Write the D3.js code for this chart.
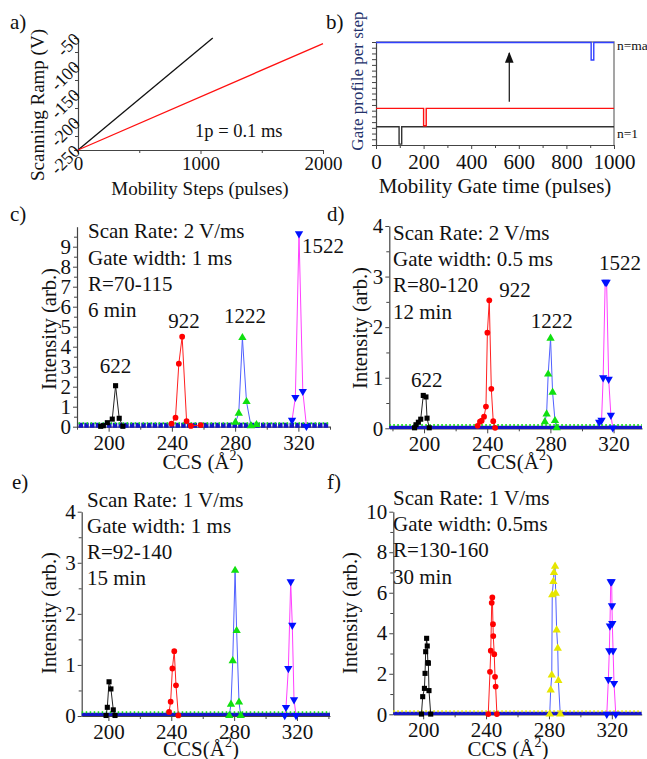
<!DOCTYPE html>
<html><head><meta charset="utf-8">
<script src="https://cdn.jsdelivr.net/npm/d3@7"></script>
<style>
body{margin:0;background:#fff}
svg text{font-family:"Liberation Serif","Times New Roman",serif;fill:#111}
</style></head><body>
<svg id="fig" width="647" height="759"></svg>
<script>
// ---- a) scanning ramp
const rampFast = [[0,-250],[1100,-50]];
const rampSlow = [[0,-250],[2000,-60]];
const rampXTicks = [0, 1000, 2000];
const rampYTicks = [-250, -200, -150, -100, -50];

// ---- b) gate profile per step
const gateStarts = [97, 200, 904];
const gateLevels = [1, 2, 5.6];
const gateColors = ["#333333", "#ff1010", "#3040ff"];
const gateWidth = 11;
const gateDepth = 0.95;
const gateXTicks = [0, 200, 400, 600, 800, 1000];
const gateArrow = [[560, 2.37], [560, 5.03]];

// ---- CCS panels
const ccsTicks = [200, 240, 280, 320];
const ccsMinor = [180, 220, 260, 300, 340];
const peakNames = ["622", "922", "1222", "1522"];

// c)
const c622  = [[195,0.02],[196.6,0.05],[199.2,0.2],[202.3,0.38],[204.4,2.05],[206.7,0.42],[209,0.02]];
const c922  = [[239.8,0.15],[242.3,0.45],[244.4,3.15],[246.5,4.5],[249.3,0.28],[252,0.04],[258.3,0.08]];
const c1222 = [[280.2,0.22],[282.3,0.67],[284.6,4.45],[287.2,1.25],[290,0.04],[293.5,0.1]];
const c1522 = [[316,0.33],[318.1,1.47],[320.4,9.65],[322.8,1.77],[325.1,0.02]];
const cBase = [[181,0.07],[339,0.07]];
const cLabelPos = [[204.4,2.68],[247.7,4.93],[286.3,5.2],[335.6,8.7]];
const cText = ["Scan Rate: 2 V/ms", "Gate width: 1 ms", "R=70-115", "6 min"];

// d)
const d622  = [[194,0.01],[194.9,0.07],[196.4,0.12],[197.9,0.18],[199.5,0.65],[201.2,0.62],[201.9,0.2],[203.3,0.01]];
const d922  = [[233.9,0.05],[235.4,0.13],[236.5,0.15],[238,0.23],[239.2,0.43],[240.1,1.89],[241.3,2.53],[242.6,0.78],[243.8,0.14],[245,0.01]];
const d1222 = [[276.5,0.13],[277.6,0.28],[278.6,1.07],[280.1,1.78],[281.4,0.71],[282.9,0.15],[284,0.01]];
const d1522 = [[310.9,0.12],[312.4,0.16],[313.4,1.0],[314.7,2.89],[315.6,2.89],[316.9,0.97],[318.3,0.26],[319.5,0.01]];
const dBase = [[178,0.02],[338,0.02]];
const dLabelPos = [[201.7,0.82],[257.6,2.6],[280.8,1.98],[324.1,3.13]];
const dText = ["Scan Rate: 2 V/ms", "Gate width: 0.5 ms", "R=80-120", "12 min"];

// e)
const e622  = [[198.5,0.01],[199.3,0.17],[200.4,0.67],[201.6,0.53],[203.1,0.12],[204.2,0.01]];
const e922  = [[238.6,0.08],[239.6,0.28],[240.7,0.93],[241.9,1.27],[243.0,0.6],[244.5,0.01]];
const e1222 = [[276.9,0.01],[278.0,0.23],[279.1,1.08],[280.6,2.85],[281.6,1.67],[283.1,0.27],[284.2,0.01]];
const e1522 = [[312.2,0.01],[313.0,0.17],[314.5,0.93],[316.0,2.63],[317.0,1.78],[318.1,0.32],[319.4,0.01]];
const eBase = [[183,0.03],[341,0.03]];
const eText = ["Scan Rate: 1 V/ms", "Gate width: 1 ms", "R=92-140", "15 min"];

// f)
const f622  = [[198.9,0.01],[199.7,0.87],[200.8,1.28],[201.2,2.02],[201.6,3.09],[202.2,3.75],[202.6,3.37],[203.0,2.55],[203.3,2.52],[203.7,1.17],[204.8,0.01]];
const f922  = [[241.4,0.01],[242.5,2.1],[243.0,3.14],[243.6,5.5],[244.0,5.77],[244.4,4.45],[244.6,3.86],[245.2,2.97],[245.7,1.85],[246.1,1.37],[246.9,0.01]];
const f1222 = [[280.5,0.01],[281.1,1.2],[281.8,1.94],[282.1,5.9],[282.8,6.55],[283.2,7.0],[283.9,7.3],[284.3,5.97],[284.9,4.16],[285.6,3.26],[286.0,1.66],[287.2,0.01]];
const f1522 = [[316.8,0.01],[317.8,1.72],[318.4,3.14],[318.8,4.36],[319.3,6.55],[319.9,6.55],[320.1,5.36],[320.3,4.49],[320.8,3.14],[321.4,1.53],[322.5,0.01]];
const fBase = [[181,0.05],[339,0.05]];
const fText = ["Scan Rate: 1 V/ms", "Gate width: 0.5ms", "R=130-160", "30 min"];

const svg = d3.select("#fig");
const axisColor = "#444";
const intFmt = d3.format("d");

function styleAxis(a, fs) {
  a.attr("font-family", null).attr("font-size", fs).attr("color", "#111");
  a.select(".domain").attr("stroke", axisColor).attr("stroke-width", 1.2);
  a.selectAll(".tick line").attr("stroke", axisColor).attr("stroke-width", 1);
  return a;
}

function minorTicks(g, axisFn, scale, vals, at) {
  g.append("g").attr("transform", at)
    .call(axisFn(scale).tickValues(vals).tickSize(3).tickFormat(""))
    .call(a => { a.select(".domain").remove(); a.selectAll("line").attr("stroke", axisColor); });
}

function label(x, y, txt, fs, opts) {
  opts = opts || {};
  const t = svg.append("text").attr("x", x).attr("y", y).attr("font-size", fs)
    .attr("text-anchor", opts.anchor || "start").text(txt);
  if (opts.rot) t.attr("transform", `rotate(${opts.rot},${x},${y})`);
  if (opts.fill) t.style("fill", opts.fill);
  return t;
}

function ccsLabel(x, y, spaced) {
  const t = svg.append("text").attr("x", x).attr("y", y).attr("font-size", 21).attr("text-anchor", "middle");
  t.append("tspan").text(spaced ? "CCS (Å" : "CCS(Å");
  t.append("tspan").attr("font-size", 14).attr("dy", -9).text("2");
  t.append("tspan").attr("dy", 9).text(")");
}

// ================= a)
{
  const x = d3.scaleLinear().domain([0, 2000]).range([78, 323]);
  const y = d3.scaleLinear().domain([-250, -50]).range([150, 38]);
  const g = svg.append("g");
  const xa = g.append("g").attr("transform", `translate(0,${y(-250)})`)
    .call(d3.axisBottom(x).tickValues(rampXTicks).tickSize(4).tickSizeOuter(0).tickPadding(3).tickFormat(intFmt));
  styleAxis(xa, 19);
  minorTicks(g, d3.axisBottom, x, [500, 1500], `translate(0,${y(-250)})`);
  const ya = g.append("g").attr("transform", `translate(${x(0)},0)`)
    .call(d3.axisLeft(y).tickValues(rampYTicks).tickSize(4).tickSizeOuter(0).tickFormat(d => "-" + Math.abs(d)));
  styleAxis(ya, 18);
  ya.selectAll(".tick text").attr("x", 0).attr("dy", 0).attr("text-anchor", "end")
    .attr("transform", "translate(3,2) rotate(-45)");
  minorTicks(g, d3.axisLeft, y, [-225, -175, -125, -75], `translate(${x(0)},0)`);
  const line = d3.line().x(d => x(d[0])).y(d => y(d[1]));
  g.append("path").datum(rampFast).attr("d", line).attr("fill", "none").attr("stroke", "#111").attr("stroke-width", 1.3);
  g.append("path").datum(rampSlow).attr("d", line).attr("fill", "none").attr("stroke", "#ff1010").attr("stroke-width", 1.3);
  label(195, 137, "1p = 0.1 ms", 18.5);
  label(200, 195, "Mobility Steps (pulses)", 19, {anchor: "middle"});
  label(44, 105, "Scanning Ramp (V)", 19, {anchor: "middle", rot: -90});
  label(10, 29, "a)", 21);
}

// ================= b)
{
  const x = d3.scaleLinear().domain([0, 1000]).range([376, 614]);
  const y = d3.scaleLinear().domain([0, 5.63]).range([145, 42]);
  const g = svg.append("g");
  // frame top/right
  g.append("path").attr("d", `M${x(0)},${y(5.63)}H${x(1000)}V${y(0)}`)
    .attr("fill", "none").attr("stroke", "#888").attr("stroke-width", 1.5);
  const xa = g.append("g").attr("transform", `translate(0,${y(0)})`)
    .call(d3.axisBottom(x).tickValues(gateXTicks).tickSize(4).tickSizeOuter(0).tickPadding(5).tickFormat(intFmt));
  styleAxis(xa, 21);
  minorTicks(g, d3.axisBottom, x, [100, 300, 500, 700, 900], `translate(0,${y(0)})`);
  const ya = g.append("g").attr("transform", `translate(${x(0)},0)`)
    .call(d3.axisLeft(y).tickValues(d3.range(0, 5.64, 5.63 / 18)).tickSize(4).tickSizeOuter(0).tickFormat(""));
  styleAxis(ya, 10);
  const line = d3.line().x(d => x(d[0])).y(d => y(d[1]));
  gateStarts.forEach((s, i) => {
    const lv = gateLevels[i];
    const pts = [[0, lv], [s, lv], [s, lv - gateDepth], [s + gateWidth, lv - gateDepth], [s + gateWidth, lv], [1000, lv]];
    g.append("path").datum(pts).attr("d", line).attr("fill", "none")
      .attr("stroke", gateColors[i]).attr("stroke-width", 1.4);
  });
  svg.append("defs").append("marker").attr("id", "ah").attr("viewBox", "0 0 10 10")
    .attr("refX", 9).attr("refY", 5).attr("markerWidth", 9).attr("markerHeight", 9)
    .attr("orient", "auto").append("path").attr("d", "M0,1L10,5L0,9Z").attr("fill", "#111");
  g.append("path").datum(gateArrow).attr("d", line).attr("stroke", "#111").attr("stroke-width", 1.2)
    .attr("marker-end", "url(#ah)");
  label(617, 50, "n=ma", 13.5);
  label(617, 138, "n=1", 13.5);
  label(495, 193, "Mobility Gate time (pulses)", 21, {anchor: "middle"});
  label(363, 81, "Gate profile per step", 17, {anchor: "middle", rot: -90, fill: "#22306a"});
  label(326, 29, "b)", 21);
}

// ================= CCS panels
const panels = [
  {id: "c)", lx: 10, ly: 221, xd: [180, 340], xr: [77, 330], yd: [0, 10], yr: [426.7, 226.7],
   yTicks: d3.range(0, 10), yMinor: d3.range(0.5, 10.01, 1), series: [c622, c922, c1222, c1522],
   base: cBase, labels: cLabelPos, text: cText, tx: 88, ty: 238.3, green: "#10e010", big: true,
   ylab: [56, 329], xlab: [203, 469, true]},
  {id: "d)", lx: 327, ly: 221, xd: [178, 338], xr: [389.3, 642], yd: [0, 4], yr: [428.3, 226],
   yTicks: d3.range(0, 5), yMinor: d3.range(0.5, 4, 1), series: [d622, d922, d1222, d1522],
   base: dBase, labels: dLabelPos, text: dText, tx: 393, ty: 240, green: "#10e010",
   ylab: [367, 328], xlab: [515, 469, false]},
  {id: "e)", lx: 12, ly: 489, xd: [183, 341], xr: [81.7, 330], yd: [0, 4], yr: [716, 511.7],
   yTicks: d3.range(0, 5), yMinor: d3.range(0.5, 4, 1), series: [e622, e922, e1222, e1522],
   base: eBase, labels: null, text: eText, tx: 87, ty: 506.7, green: "#10e010",
   ylab: [56, 613], xlab: [201, 756, false]},
  {id: "f)", lx: 327, ly: 489, xd: [181, 339], xr: [393.3, 641.7], yd: [0, 10], yr: [714.3, 511.7],
   yTicks: d3.range(0, 11, 2), yMinor: d3.range(1, 10, 2), series: [f622, f922, f1222, f1522],
   base: fBase, labels: null, text: fText, tx: 393, ty: 505, green: "#e6e600",
   ylab: [357, 613], xlab: [508, 756, true]}
];

panels.forEach(p => {
  const x = d3.scaleLinear().domain(p.xd).range(p.xr);
  const y = d3.scaleLinear().domain(p.yd).range(p.yr);
  const g = svg.append("g");
  const at = `translate(0,${y(0)})`;
  const xa = g.append("g").attr("transform", at)
    .call(d3.axisBottom(x).tickValues(ccsTicks).tickSize(5).tickSizeOuter(0).tickPadding(3).tickFormat(intFmt));
  styleAxis(xa, 21);
  minorTicks(g, d3.axisBottom, x, ccsMinor.filter(v => v >= p.xd[0] && v <= p.xd[1]), at);
  const ya = g.append("g").attr("transform", `translate(${p.xr[0]},0)`)
    .call(d3.axisLeft(y).tickValues(p.yTicks).tickSize(4).tickSizeOuter(0).tickPadding(2).tickFormat(intFmt));
  styleAxis(ya, 21);
  minorTicks(g, d3.axisLeft, y, p.yMinor, `translate(${p.xr[0]},0)`);

  const line = d3.line().x(d => x(d[0])).y(d => y(d[1]));
  const lineCols = ["#222", "#ff2020", "#5060ff", "#ff40ff"];
  const markCols = ["#000", "#ff0000", p.green, "#0010ff"];
  const shapes = [d3.symbolSquare, d3.symbolCircle, d3.symbolTriangle, d3.symbolTriangle];
  const sizes = [26, 26, 30, 30];

  // baseline (zero level shared by all series)
  const bl = g.append("g");
  bl.append("path").datum(p.base).attr("d", line).attr("stroke", "#1515c8")
    .attr("stroke-width", p.big ? 5 : 3.2).attr("stroke-dasharray", p.big ? "4.5,1.2" : null);
  bl.append("path").datum(p.base.map(d => [d[0], d[1] + (p.yd[1] === 10 ? 0.1 : 0.045)])).attr("d", line)
    .attr("stroke", p.green).attr("stroke-width", 2).attr("stroke-dasharray", "1.5,2.5");

  p.series.forEach((s, i) => {
    g.append("path").datum(s).attr("d", line).attr("fill", "none")
      .attr("stroke", lineCols[i]).attr("stroke-width", 1);
    g.selectAll(null).data(s).enter().append("path")
      .attr("d", d3.symbol().type(shapes[i]).size(sizes[i]))
      .attr("transform", d => `translate(${x(d[0])},${y(d[1])})` + (i === 3 ? " rotate(180)" : ""))
      .attr("fill", markCols[i]);
  });

  if (p.labels) {
    p.labels.forEach((l, i) => label(x(l[0]), y(l[1]), peakNames[i], 21, {anchor: "middle"}));
  }
  p.text.forEach((t, i) => label(p.tx, p.ty + i * 26.2, t, 21));
  label(p.ylab[0], p.ylab[1], "Intensity (arb.)", 20.5, {anchor: "middle", rot: -90});
  ccsLabel(p.xlab[0], p.xlab[1], p.xlab[2]);
  label(p.lx, p.ly, p.id, 21);
});
</script>
</body></html>
